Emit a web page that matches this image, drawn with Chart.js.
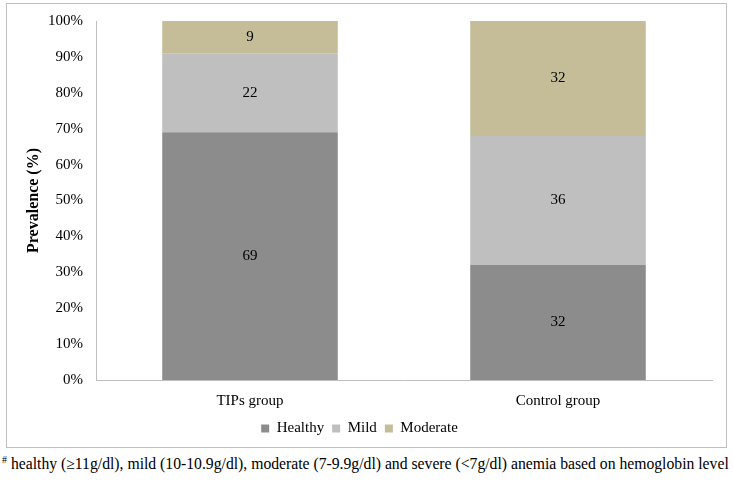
<!DOCTYPE html>
<html>
<head>
<meta charset="utf-8">
<script src="https://cdn.jsdelivr.net/npm/chart.js@4.4.1/dist/chart.umd.min.js"></script>
<style>
  body { margin: 0; background: #fff; width: 733px; height: 481px; overflow: hidden; position: relative; }
  #box { position: absolute; left: 6px; top: 3px; width: 719px; height: 443px; border: 1px solid #bfbfbf; }
  #nota { position: absolute; left: 2px; top: 455px; font-family: "Liberation Serif", serif; font-size: 15.7px; color: #000; white-space: nowrap; }
  #nota sup { font-size: 10px; vertical-align: 6px; line-height: 0; }
</style>
</head>
<body>
<div id="box"><canvas id="chart-anemia"></canvas></div>
<div id="nota"><sup>#</sup> healthy (≥11g/dl), mild (10-10.9g/dl), moderate (7-9.9g/dl) and severe (&lt;7g/dl) anemia based on hemoglobin level</div>
<script>
const grupos = ['TIPs group', 'Control group']
const healthy = [69, 32]
const mild = [22, 36]
const moderate = [9, 32]
const ticksY = ['0%', '10%', '20%', '30%', '40%', '50%', '60%', '70%', '80%', '90%', '100%']

const serif = '"Liberation Serif", "Times New Roman", serif'

// etiquetas con el valor en el centro de cada segmento
const etiquetas = {
  id: 'etiquetas',
  afterDatasetsDraw(chart) {
    const ctx = chart.ctx
    ctx.save()
    ctx.font = '15px ' + serif
    ctx.fillStyle = '#000'
    ctx.textAlign = 'center'
    ctx.textBaseline = 'middle'
    chart.data.datasets.forEach((ds, i) => {
      chart.getDatasetMeta(i).data.forEach((bar, j) => {
        const y = (bar.y + bar.base) / 2
        ctx.fillText(ds.data[j], bar.x, y)
      })
    })
    ctx.restore()
  }
}

window.addEventListener('load', () => {
  new Chart(document.getElementById('chart-anemia'), {
    type: 'bar',
    data: {
      labels: grupos,
      datasets: [
        { label: 'Healthy', data: healthy, backgroundColor: '#8c8c8c' },
        { label: 'Mild', data: mild, backgroundColor: '#bfbfbf' },
        { label: 'Moderate', data: moderate, backgroundColor: '#c4bd97' }
      ]
    },
    options: {
      responsive: true,
      maintainAspectRatio: false,
      animation: false,
      categoryPercentage: 0.57,
      barPercentage: 1,
      layout: { padding: { top: 14, right: 14, bottom: 1, left: 0 } },
      plugins: {
        legend: {
          position: 'bottom',
          labels: {
            boxWidth: 8,
            boxHeight: 8,
            padding: 8,
            color: '#000',
            font: { family: serif, size: 15 }
          }
        },
        tooltip: { enabled: false }
      },
      scales: {
        x: {
          stacked: true,
          grid: { display: false, drawTicks: false },
          border: { color: '#bfbfbf' },
          ticks: { color: '#000', font: { family: serif, size: 15 }, padding: 12 },
          afterFit: s => { s.height = 33 }
        },
        y: {
          stacked: true,
          min: 0,
          max: 100,
          grid: { display: false, drawTicks: true, tickLength: 5, tickColor: '#bfbfbf' },
          border: { color: '#bfbfbf' },
          ticks: {
            stepSize: 10,
            padding: 8,
            color: '#000',
            font: { family: serif, size: 15 },
            callback: (v, i) => ticksY[i]
          },
          title: {
            display: true,
            text: 'Prevalence (%)',
            color: '#000',
            font: { family: serif, size: 16, weight: 'bold', lineHeight: 2.9 }
          },
          afterFit: s => { s.width = 89 }
        }
      }
    },
    plugins: [etiquetas]
  })
})
</script>
</body>
</html>
